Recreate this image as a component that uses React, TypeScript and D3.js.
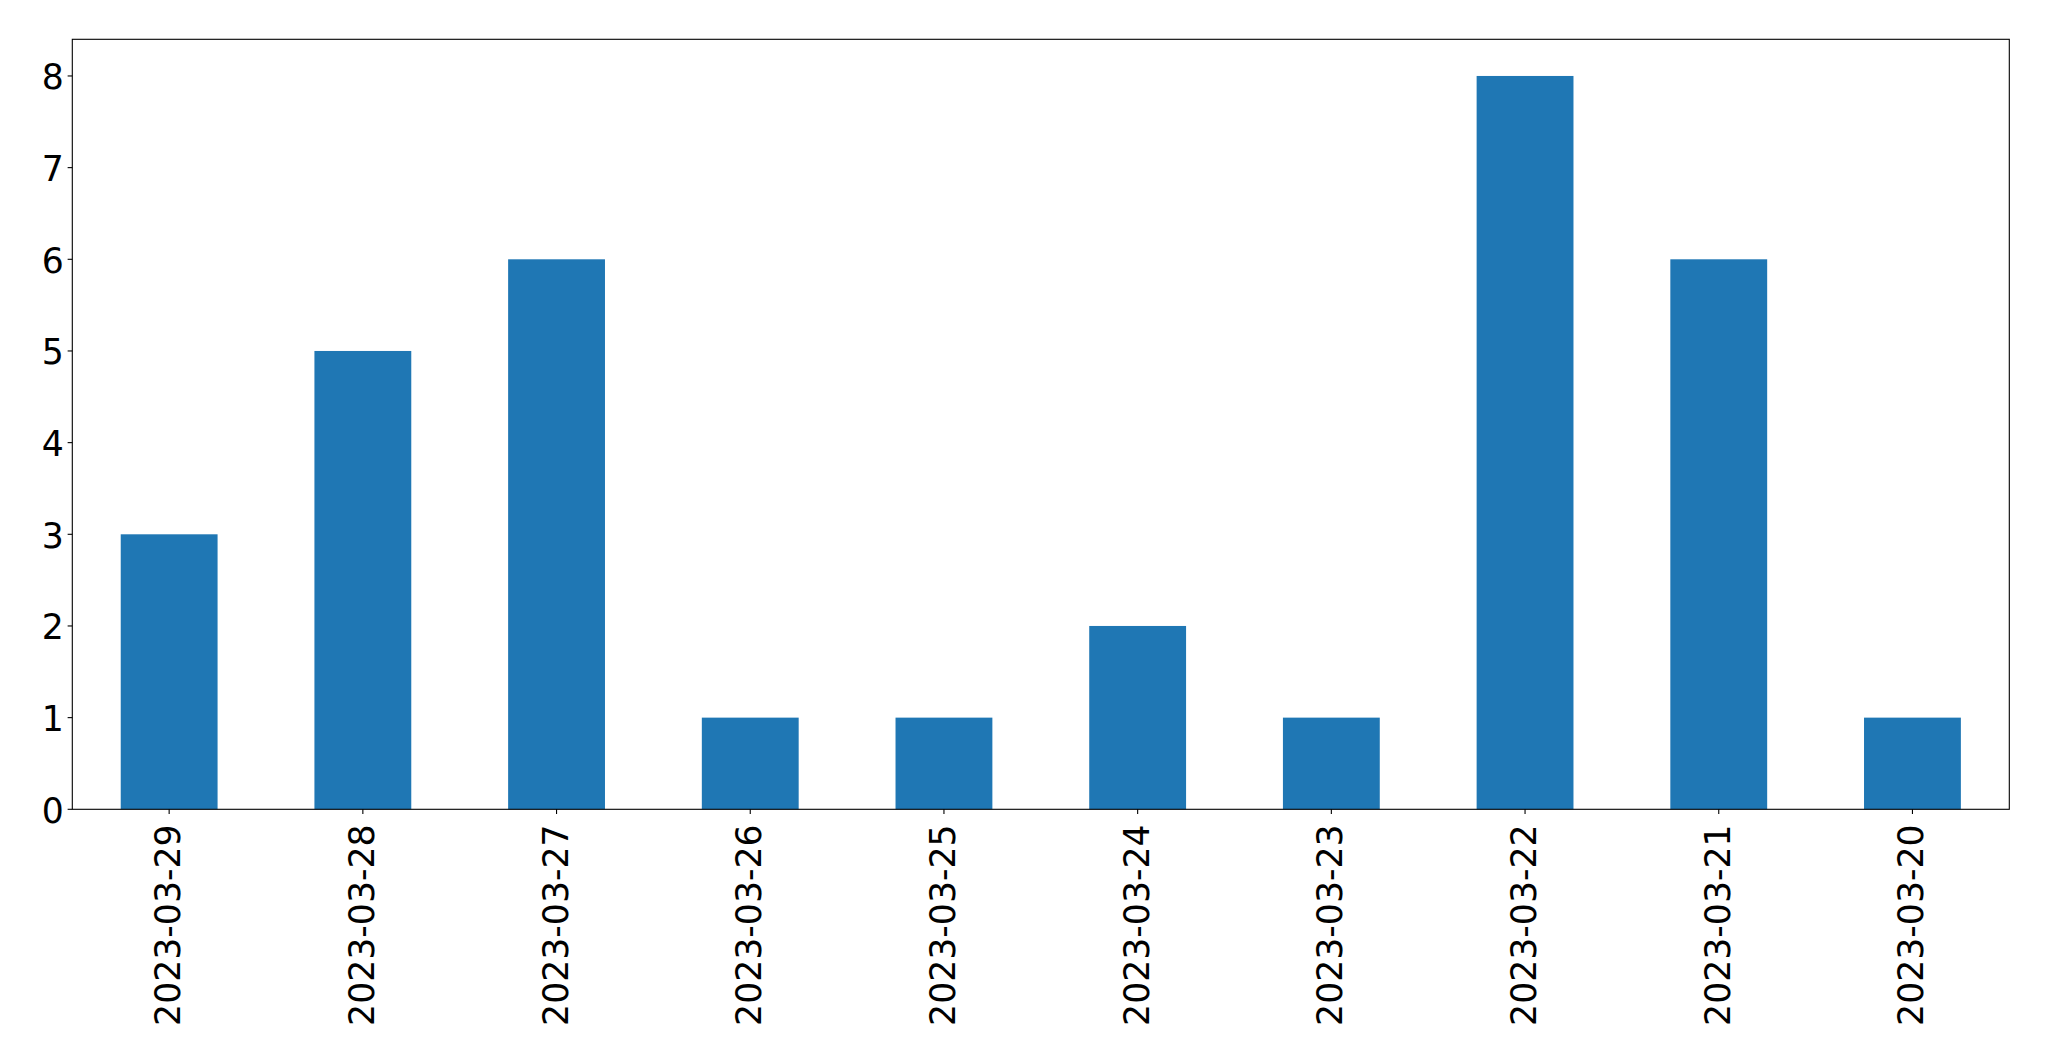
import React from "react";
import * as d3 from "d3";

const categories = ["2023-03-29","2023-03-28","2023-03-27","2023-03-26","2023-03-25","2023-03-24","2023-03-23","2023-03-22","2023-03-21","2023-03-20"];
const values = [3,5,6,1,1,2,1,8,6,1];
const yTicks = [0,1,2,3,4,5,6,7,8];

export default function App() {
  const W = 2049, H = 1061;
  const left = 72.3, right = 2009.3, top = 39.3, bottom = 809.3;
  const x = d3.scaleLinear().domain([-0.5, categories.length - 0.5]).range([left, right]);
  const y = d3.scaleLinear().domain([0, 8.4]).range([bottom, top]);
  const bw = x(0.25) - x(-0.25);
  const font = "DejaVu Sans, sans-serif";
  const tick = 4.67;
  const fs = 34.67;
  return (
    <svg width={W} height={H} style={{ position: "absolute", left: 0, top: 0, background: "#fff" }}>
      {values.map((v, i) => (
        <rect key={i} x={x(i) - bw / 2} y={y(v)} width={bw} height={y(0) - y(v)} fill="#1f77b4" />
      ))}
      <rect x={left} y={top} width={right - left} height={bottom - top} fill="none" stroke="#000" strokeWidth={1.1} />
      {yTicks.map(t => (
        <g key={t}>
          <line x1={left - tick} x2={left} y1={y(t)} y2={y(t)} stroke="#000" strokeWidth={1.1} />
          <text x={left - tick - 3.8} y={y(t) + 1.5} textAnchor="end" dominantBaseline="central" fontFamily={font} fontSize={fs}>{t}</text>
        </g>
      ))}
      {categories.map((c, i) => (
        <g key={c}>
          <line x1={x(i)} x2={x(i)} y1={bottom} y2={bottom + tick} stroke="#000" strokeWidth={1.1} />
          <text transform={`translate(${x(i) - 1},${bottom + tick + 10.5}) rotate(-90)`} textAnchor="end" dominantBaseline="central" fontFamily={font} fontSize={fs}>{c}</text>
        </g>
      ))}
    </svg>
  );
}
